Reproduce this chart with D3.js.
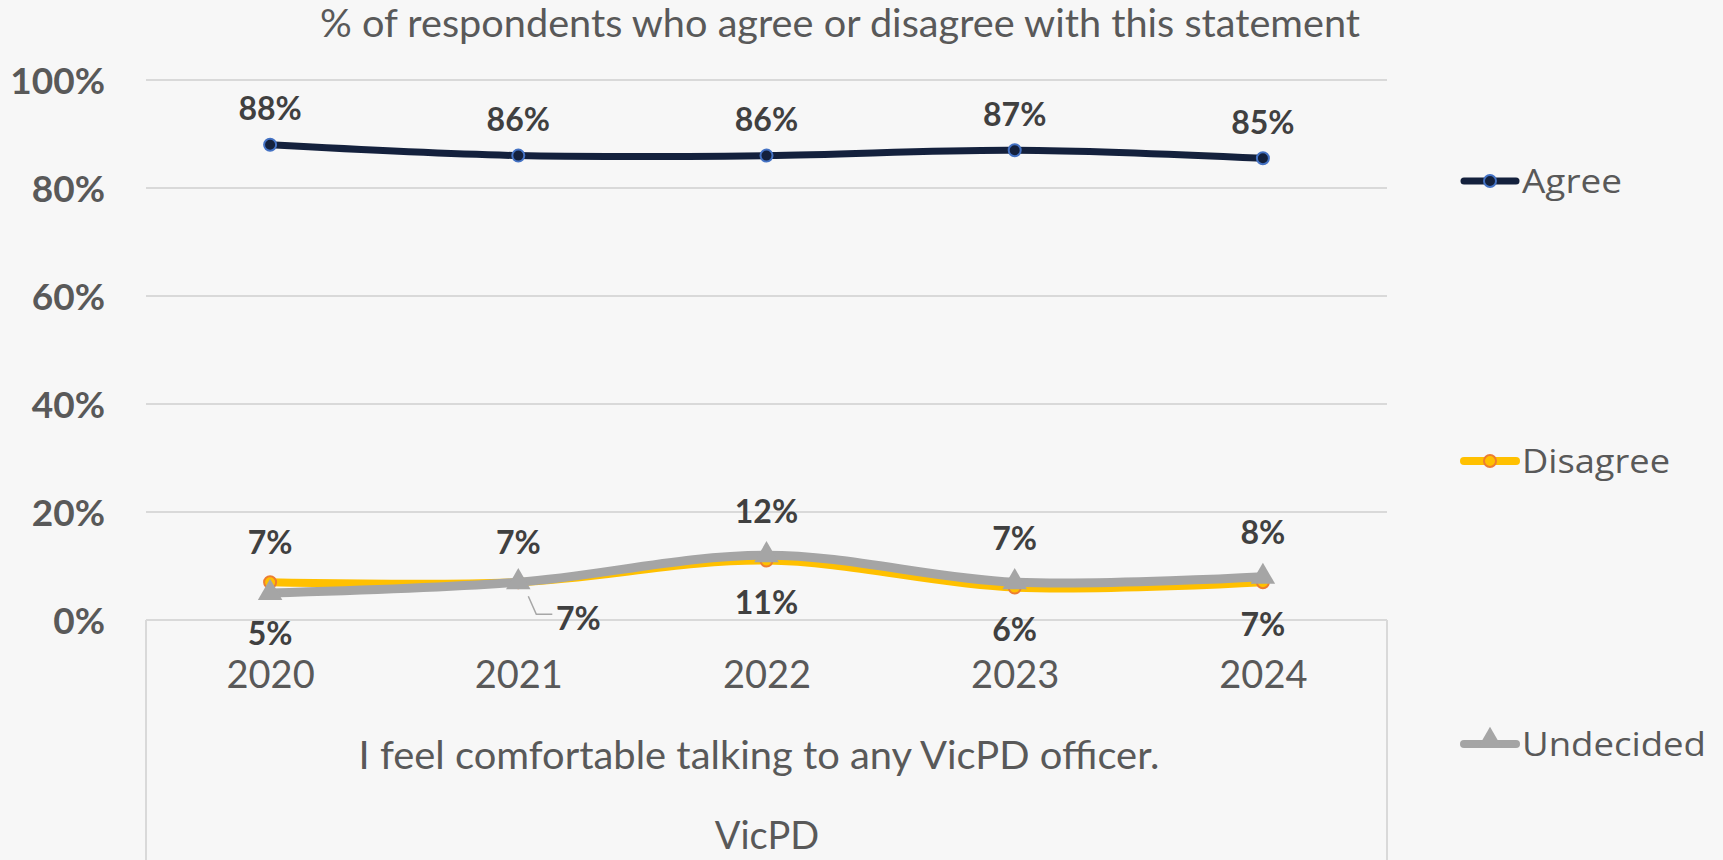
<!DOCTYPE html>
<html><head><meta charset="utf-8">
<script src="https://cdn.jsdelivr.net/npm/d3@7"></script>
<style>
html,body{margin:0;padding:0;background:#f7f7f7;}
svg{display:block;}
</style></head>
<body>
<svg id="chart" width="1723" height="860"></svg>
<script>
const years = ["2020","2021","2022","2023","2024"];
const agree = [88, 86, 86, 87, 85.5];
const disagree = [7, 7, 11, 6, 7];
const undecided = [5, 7, 12, 7, 8];
const agreeLabels = ["88%","86%","86%","87%","85%"];
const disagreeLabels = ["7%","7%","11%","6%","7%"];
const undecidedLabels = ["5%","7%","12%","7%","8%"];
const disagreePos = ["above","above","below","below","below"];
const undecidedPos = ["below","right","above","above","above"];
const yTicks = [0,20,40,60,80,100];
const seriesNames = ["Agree","Disagree","Undecided"];
const title = "% of respondents who agree or disagree with this statement";
const catTitle = "I feel comfortable talking to any VicPD officer.";
const groupTitle = "VicPD";

const W = 1723, H = 860;
const m = {left:146, right:1387, top:80, bottom:620};
const svg = d3.select("#chart");
svg.append("rect").attr("width",W).attr("height",H).attr("fill","#f7f7f7");

const x = d3.scalePoint().domain(years).range([m.left, m.right]).padding(0.5);
const y = d3.scaleLinear().domain([0,100]).range([m.bottom, m.top]);

const font = "Lato, 'Noto Sans', sans-serif";
const txt = "#595959", lbl = "#404040";

// title
svg.append("text").attr("x",840).attr("y",37).attr("text-anchor","middle")
  .attr("font-family",font).attr("font-size",38).attr("fill",txt)
  .attr("textLength",1040).attr("lengthAdjust","spacingAndGlyphs").text(title);

// gridlines
svg.append("g").selectAll("line").data(yTicks).join("line")
  .attr("x1",m.left).attr("x2",m.right)
  .attr("y1",d=>y(d)).attr("y2",d=>y(d))
  .attr("stroke","#d9d9d9").attr("stroke-width",2);

// y axis labels
const yAxis = d3.axisLeft(y).tickValues(yTicks).tickFormat(d=>d+"%").tickSize(0).tickPadding(0);
const ya = svg.append("g").attr("transform",`translate(105,0)`).call(yAxis);
ya.select(".domain").remove();
ya.selectAll("text").attr("font-family",font).attr("font-size",37).attr("font-weight","bold")
  .attr("fill",txt).attr("dy","0.36em");

// category axis box
svg.append("line").attr("x1",m.left).attr("x2",m.left).attr("y1",m.bottom).attr("y2",H)
  .attr("stroke","#d9d9d9").attr("stroke-width",2);
svg.append("line").attr("x1",m.right).attr("x2",m.right).attr("y1",m.bottom).attr("y2",H)
  .attr("stroke","#d9d9d9").attr("stroke-width",2);

const xAxis = d3.axisBottom(x).tickSize(0).tickPadding(0);
const xa = svg.append("g").attr("transform",`translate(0,${m.bottom})`).call(xAxis);
xa.select(".domain").remove();
xa.selectAll("text").attr("font-family",font).attr("font-size",38).attr("fill",txt)
  .attr("y",68).attr("dy",0);

svg.append("text").attr("x",759).attr("y",769).attr("text-anchor","middle")
  .attr("font-family",font).attr("font-size",39).attr("fill",txt)
  .attr("textLength",801).attr("lengthAdjust","spacingAndGlyphs").text(catTitle);
svg.append("text").attr("x",767).attr("y",849).attr("text-anchor","middle")
  .attr("font-family",font).attr("font-size",38).attr("fill",txt).text(groupTitle);

const line = d3.line().x((d,i)=>x(years[i])).y(d=>y(d)).curve(d3.curveCatmullRom.alpha(0));

// disagree
svg.append("path").attr("d",line(disagree)).attr("fill","none").attr("stroke","#FFC000")
  .attr("stroke-width",8).attr("stroke-linecap","round");
svg.append("g").selectAll("circle").data(disagree).join("circle")
  .attr("cx",(d,i)=>x(years[i])).attr("cy",d=>y(d)).attr("r",6)
  .attr("fill","#FFC000").attr("stroke","#ED7D31").attr("stroke-width",2);

// undecided
svg.append("path").attr("d",line(undecided)).attr("fill","none").attr("stroke","#A5A5A5")
  .attr("stroke-width",9).attr("stroke-linecap","round");
const tri = d3.symbol().type(d3.symbolTriangle).size(260);
svg.append("g").selectAll("path").data(undecided).join("path")
  .attr("d",tri).attr("transform",(d,i)=>`translate(${x(years[i])},${y(d)})`)
  .attr("fill","#A5A5A5");

// agree
svg.append("path").attr("d",line(agree)).attr("fill","none").attr("stroke","#14213D")
  .attr("stroke-width",7).attr("stroke-linecap","round");
svg.append("g").selectAll("circle").data(agree).join("circle")
  .attr("cx",(d,i)=>x(years[i])).attr("cy",d=>y(d)).attr("r",6)
  .attr("fill","#14213D").attr("stroke","#4472C4").attr("stroke-width",2);

// data labels
function label(px,py,t){
  svg.append("text").attr("x",px).attr("y",py).attr("text-anchor","middle").attr("dy","0.36em")
    .attr("font-family",font).attr("font-size",32).attr("font-weight","bold").attr("fill",lbl).text(t);
}
agree.forEach((v,i)=>label(x(years[i]), y(v)-36, agreeLabels[i]));
disagree.forEach((v,i)=>{
  const p = disagreePos[i];
  label(x(years[i]), p==="above"? y(v)-40 : y(v)+42, disagreeLabels[i]);
});
undecided.forEach((v,i)=>{
  const p = undecidedPos[i];
  const px = x(years[i]), py = y(v);
  if(p==="right"){
    svg.append("polyline").attr("points",`${px+10},${py+14} ${px+18},${py+32} ${px+34},${py+32}`)
      .attr("fill","none").attr("stroke","#a6a6a6").attr("stroke-width",1.5);
    label(px+60, py+36, undecidedLabels[i]);
  } else {
    label(px, p==="above"? py-44 : py+40, undecidedLabels[i]);
  }
});

// legend
const legendStyle = [
  {color:"#14213D", mk:"circle", fill:"#14213D", stroke:"#4472C4", y:181, w:7, len:100},
  {color:"#FFC000", mk:"circle", fill:"#FFC000", stroke:"#ED7D31", y:461, w:8, len:148},
  {color:"#A5A5A5", mk:"tri", fill:"#A5A5A5", stroke:"none", y:744, w:8, len:184}
];
const lg = svg.append("g");
seriesNames.forEach((name,k)=>{
  const l = legendStyle[k];
  lg.append("line").attr("x1",1464).attr("x2",1516).attr("y1",l.y).attr("y2",l.y)
    .attr("stroke",l.color).attr("stroke-width",l.w).attr("stroke-linecap","round");
  if(l.mk==="circle"){
    lg.append("circle").attr("cx",1490).attr("cy",l.y).attr("r",6).attr("fill",l.fill)
      .attr("stroke",l.stroke).attr("stroke-width",2);
  } else {
    lg.append("path").attr("d",tri).attr("transform",`translate(1490,${l.y-3})`).attr("fill",l.fill);
  }
  lg.append("text").attr("x",1522).attr("y",l.y).attr("dy","0.36em")
    .attr("font-family","'Open Sans', sans-serif").attr("font-size",33).attr("fill",txt)
    .attr("textLength",l.len).attr("lengthAdjust","spacingAndGlyphs").text(name);
});
</script>
</body></html>
